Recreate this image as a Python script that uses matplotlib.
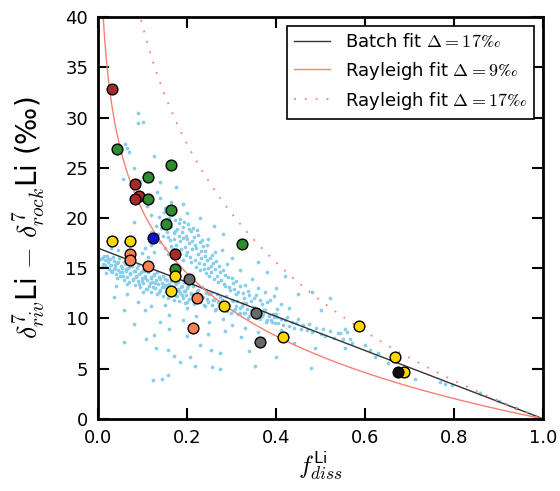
import numpy as np
import matplotlib
matplotlib.use("Agg")
import matplotlib.pyplot as plt

plt.rcParams['mathtext.fontset'] = 'cm'
plt.rcParams['font.family'] = ['DejaVu Sans']

# fit parameters (per mil)
batch_delta = 17.0
rayleigh_delta_a = 9.0
rayleigh_delta_b = 17.0

# model / river cloud: dense band
band_x = [0.010, 0.012, 0.015, 0.018, 0.020, 0.022, 0.025, 0.028, 0.030, 0.032,
          0.035, 0.038, 0.040, 0.042, 0.045, 0.048, 0.050, 0.052, 0.055, 0.058,
          0.060, 0.062, 0.065, 0.068, 0.070, 0.072, 0.075, 0.078, 0.080, 0.082,
          0.085, 0.088, 0.090, 0.092, 0.095, 0.098, 0.100, 0.102, 0.105, 0.108,
          0.110, 0.112, 0.115, 0.118, 0.120, 0.122, 0.125, 0.128, 0.130, 0.133,
          0.135, 0.138, 0.140, 0.143, 0.145, 0.148, 0.150, 0.153, 0.155, 0.158,
          0.160, 0.163, 0.165, 0.168, 0.170, 0.173, 0.175, 0.178, 0.180, 0.183,
          0.185, 0.188, 0.190, 0.193, 0.195, 0.198, 0.200, 0.205, 0.210, 0.215,
          0.220, 0.225, 0.230, 0.235, 0.240, 0.245, 0.250, 0.255, 0.260, 0.265,
          0.270, 0.275, 0.280, 0.285, 0.290, 0.295, 0.300, 0.305, 0.310, 0.315,
          0.320, 0.325, 0.330, 0.335, 0.340, 0.345, 0.350, 0.355, 0.360, 0.365,
          0.370, 0.375, 0.380, 0.385, 0.390, 0.395, 0.400, 0.405, 0.410, 0.415,
          0.420, 0.425, 0.430, 0.435, 0.440, 0.445, 0.450, 0.455, 0.460, 0.470,
          0.475, 0.480, 0.490, 0.500, 0.505, 0.510, 0.520, 0.530, 0.540, 0.550,
          0.560, 0.570]
band_y = [16.0, 15.4, 15.8, 15.1, 16.2, 15.6, 14.9, 15.9, 15.3, 14.6,
          15.7, 15.0, 14.4, 15.5, 14.8, 16.0, 14.2, 15.2, 14.6, 13.8,
          15.4, 14.9, 14.1, 15.0, 13.6, 14.5, 15.3, 13.9, 14.7, 13.3,
          14.2, 15.0, 13.7, 14.4, 13.1, 14.0, 14.8, 13.5, 14.2, 12.9,
          13.8, 14.6, 13.2, 14.0, 12.6, 13.6, 14.4, 13.0, 13.8, 12.4,
          13.4, 14.1, 12.8, 13.5, 12.2, 13.1, 13.9, 12.6, 13.3, 12.0,
          12.9, 13.7, 12.4, 13.1, 11.8, 12.7, 13.4, 12.2, 12.9, 11.7,
          12.5, 13.2, 12.0, 12.7, 11.5, 12.3, 13.0, 11.9, 12.5, 11.4,
          12.2, 12.8, 11.6, 12.1, 11.2, 11.9, 12.4, 11.3, 11.8, 10.9,
          11.6, 12.1, 11.0, 11.5, 10.7, 11.3, 11.8, 10.8, 11.2, 10.4,
          11.0, 11.5, 10.5, 10.9, 10.2, 10.7, 11.1, 10.1, 10.6, 9.9,
          10.4, 10.8, 9.8, 10.2, 9.6, 10.1, 10.4, 9.5, 9.9, 9.3,
          9.8, 10.1, 9.2, 9.6, 9.0, 9.5, 9.9, 8.9, 9.3, 8.8,
          9.4, 8.6, 9.0, 8.4, 8.9, 8.2, 8.7, 8.0, 8.5, 7.9,
          8.6, 7.6]

band2_x = [0.006, 0.009, 0.013, 0.016, 0.019, 0.023, 0.026, 0.029, 0.033, 0.036,
           0.039, 0.043, 0.046, 0.049, 0.053, 0.056, 0.059, 0.063, 0.066, 0.069,
           0.073, 0.076, 0.079, 0.083, 0.086, 0.089, 0.093, 0.096, 0.099, 0.103,
           0.106, 0.109, 0.113, 0.116, 0.119, 0.123, 0.126, 0.129, 0.133, 0.136,
           0.139, 0.143, 0.146, 0.149, 0.153, 0.156, 0.159, 0.163, 0.166, 0.169,
           0.173, 0.176, 0.179, 0.183, 0.186, 0.189, 0.193, 0.196, 0.199, 0.203,
           0.208, 0.213, 0.218, 0.223, 0.228, 0.233, 0.238, 0.243, 0.248, 0.253,
           0.258, 0.263, 0.268, 0.273, 0.278, 0.283, 0.288, 0.293, 0.298, 0.303,
           0.308, 0.313, 0.318, 0.323, 0.328, 0.333, 0.338, 0.343, 0.348, 0.353,
           0.358, 0.363, 0.368, 0.373, 0.378, 0.383, 0.388, 0.393, 0.398, 0.403]
band2_y = [15.9, 15.1, 16.2, 15.3, 14.5, 15.9, 15.3, 14.7, 16.1, 14.9,
           15.3, 14.0, 15.6, 14.6, 15.0, 14.2, 15.6, 14.7, 13.4, 15.1,
           14.4, 15.2, 13.8, 14.7, 14.1, 15.3, 13.4, 14.6, 13.7, 14.7,
           14.0, 12.9, 14.8, 13.5, 14.1, 13.1, 14.3, 13.5, 14.6, 12.6,
           13.9, 13.1, 14.2, 13.3, 12.6, 13.8, 13.4, 12.7, 14.2, 13.0,
           13.5, 12.2, 13.6, 12.7, 13.1, 12.3, 13.6, 12.7, 11.6, 13.2,
           12.4, 13.2, 11.7, 12.7, 12.0, 13.1, 11.3, 12.5, 11.6, 12.5,
           11.8, 10.8, 12.4, 11.3, 11.8, 10.9, 12.2, 11.3, 10.5, 11.7,
           10.9, 11.7, 10.5, 11.2, 10.5, 11.5, 10.0, 10.8, 10.4, 11.0,
           10.0, 10.6, 10.2, 10.8, 9.6, 10.3, 9.8, 10.4, 9.5, 10.1]

# upper lobe of the cloud
lobe_x = [0.130, 0.135, 0.138, 0.140, 0.142, 0.145, 0.148, 0.150, 0.152, 0.155,
          0.158, 0.160, 0.162, 0.165, 0.168, 0.170, 0.172, 0.175, 0.178, 0.180,
          0.182, 0.185, 0.188, 0.190, 0.192, 0.195, 0.198, 0.200, 0.202, 0.205,
          0.208, 0.210, 0.212, 0.215, 0.218, 0.220, 0.222, 0.225, 0.228, 0.230,
          0.232, 0.235, 0.238, 0.240, 0.243, 0.245, 0.248, 0.250, 0.253, 0.256,
          0.260, 0.263, 0.266, 0.270, 0.274, 0.278, 0.282, 0.286, 0.290, 0.295,
          0.300, 0.305, 0.310, 0.315, 0.320, 0.325, 0.330, 0.340, 0.345, 0.350,
          0.360, 0.365, 0.375, 0.380, 0.395, 0.410, 0.430, 0.120, 0.125, 0.112,
          0.118, 0.105, 0.098,
          0.153, 0.157, 0.161, 0.164, 0.167, 0.171, 0.174, 0.177, 0.181, 0.184,
          0.187, 0.191, 0.194, 0.197, 0.201, 0.204, 0.207, 0.211, 0.214, 0.217,
          0.221, 0.224, 0.227, 0.231, 0.234, 0.237, 0.241, 0.244, 0.247, 0.251,
          0.254, 0.258, 0.262, 0.267, 0.271, 0.276, 0.281, 0.286, 0.292, 0.297,
          0.303, 0.311, 0.318, 0.327, 0.336, 0.344, 0.355, 0.368, 0.386, 0.402]
lobe_y = [19.2, 18.4, 20.1, 17.6, 19.0, 18.2, 20.6, 17.0, 19.5, 18.6,
          16.4, 20.0, 17.8, 19.2, 16.9, 18.5, 19.8, 17.3, 18.9, 16.2,
          19.5, 17.7, 18.6, 15.8, 19.1, 17.1, 18.2, 16.6, 19.4, 17.5,
          18.7, 15.6, 16.9, 18.1, 17.3, 15.1, 18.8, 16.4, 17.6, 14.8,
          16.0, 17.2, 15.4, 16.7, 14.5, 15.8, 17.9, 14.2, 15.2, 16.3,
          13.9, 14.9, 15.7, 13.6, 14.6, 16.8, 13.4, 14.3, 15.4, 13.1,
          14.0, 12.9, 13.7, 12.6, 14.8, 12.5, 13.3, 12.3, 13.9, 12.0,
          13.0, 11.8, 12.6, 11.6, 12.2, 11.4, 11.0, 17.3, 16.6, 16.1,
          18.6, 17.0, 16.5,
          19.9, 18.1, 19.1, 17.2, 20.3, 17.9, 18.7, 16.6, 18.2, 19.9,
          16.9, 18.0, 19.6, 16.3, 17.9, 18.9, 16.1, 17.7, 19.0, 15.8,
          17.0, 18.3, 15.5, 16.7, 17.8, 14.9, 16.2, 17.3, 15.0, 16.0,
          14.6, 15.5, 16.6, 14.2, 15.2, 13.8, 14.8, 13.2, 14.1, 12.8,
          13.5, 12.4, 13.2, 12.0, 12.7, 11.7, 12.3, 11.4, 11.8, 10.9]

# sparse points around the cloud
sparse_x = [0.090, 0.090, 0.100, 0.060, 0.065, 0.070, 0.126, 0.081, 0.056, 0.094,
            0.140, 0.133, 0.175, 0.140, 0.165, 0.110, 0.150, 0.190, 0.120, 0.080,
            0.200, 0.230, 0.260, 0.280, 0.320, 0.300, 0.360, 0.380, 0.420, 0.400,
            0.450, 0.480, 0.520, 0.500, 0.060, 0.045, 0.030,
            0.065, 0.058, 0.106, 0.140, 0.058, 0.108, 0.126, 0.130, 0.157, 0.170,
            0.184, 0.207, 0.218, 0.124, 0.144, 0.157, 0.254, 0.256, 0.274, 0.274,
            0.353, 0.479, 0.247, 0.285, 0.321, 0.090, 0.120, 0.160, 0.190, 0.220,
            0.250, 0.280, 0.200, 0.150, 0.100, 0.040, 0.035, 0.300, 0.330, 0.360,
            0.410, 0.440, 0.160, 0.200, 0.080, 0.230, 0.340, 0.400,
            0.544, 0.555, 0.566, 0.555, 0.600, 0.611, 0.622, 0.630, 0.652, 0.683,
            0.695, 0.712, 0.769, 0.780, 0.796, 0.858, 0.488, 0.900, 0.940]
sparse_y = [30.5, 29.5, 29.6, 27.4, 27.0, 26.6, 26.2, 25.0, 23.9, 23.7,
            23.6, 22.6, 23.1, 22.0, 21.6, 21.2, 21.0, 21.4, 20.3, 19.6,
            20.5, 20.0, 19.2, 18.4, 17.2, 16.0, 15.6, 14.6, 14.2, 13.0,
            12.4, 12.6, 12.0, 10.8, 17.6, 16.8, 17.0,
            12.4, 10.8, 10.8, 9.6, 7.7, 7.9, 8.3, 7.1, 6.9, 6.3,
            5.7, 6.2, 5.3, 3.9, 4.0, 4.4, 6.9, 5.2, 6.6, 5.0,
            5.3, 5.1, 8.4, 8.7, 8.1, 11.6, 11.2, 10.3, 9.8, 10.2,
            9.6, 9.9, 11.0, 11.3, 12.6, 13.2, 12.1, 9.3, 9.0, 8.6,
            8.8, 7.6, 8.9, 8.2, 9.4, 7.4, 6.8, 6.2,
            8.5, 8.9, 7.9, 7.1, 7.4, 6.9, 6.2, 6.6, 5.6, 4.8,
            4.6, 4.0, 3.7, 3.5, 3.4, 2.6, 7.1, 1.8, 1.1]

# measured rivers, grouped by colour
groups = [
    ("#a52a2a", [0.032, 0.082, 0.092, 0.082, 0.173],
                [32.8, 23.35, 22.2, 21.9, 16.4]),
    ("#2e8b2e", [0.042, 0.163, 0.112, 0.112, 0.163, 0.153, 0.324, 0.173],
                [26.9, 25.3, 24.1, 21.9, 20.8, 19.4, 17.4, 14.96]),
    ("#1010d0", [0.123], [17.98]),
    ("#ff8050", [0.073, 0.073, 0.113, 0.223, 0.2135],
                [16.4, 15.8, 15.2, 12.0, 9.09]),
    ("#ffd700", [0.032, 0.073, 0.173, 0.163, 0.284, 0.415, 0.586, 0.667, 0.688],
                [17.74, 17.74, 14.2, 12.74, 11.27, 8.19, 9.28, 6.2, 4.71]),
    ("#696969", [0.204, 0.355, 0.365], [13.9, 10.5, 7.66]),
    ("#111111", [0.674], [4.71]),
]

fig, ax = plt.subplots(figsize=(5.6, 4.91), dpi=100)
fig.subplots_adjust(left=0.175, right=0.970, bottom=0.147, top=0.965)

cloud_x = band_x + band2_x + lobe_x + sparse_x
cloud_y = band_y + band2_y + lobe_y + sparse_y
ax.scatter(cloud_x, cloud_y, s=7, color="#87ceeb", linewidths=0, zorder=1)

f = np.linspace(0.001, 1.0, 500)
ax.plot(f, batch_delta * (1 - f), color="#333333", lw=1.0, zorder=2,
        label=r"Batch fit $\Delta = 17\perthousand$")
ax.plot(f, -rayleigh_delta_a * np.log(f), color="#fa8072", lw=1.0, zorder=2,
        label=r"Rayleigh fit $\Delta = 9\perthousand$")
ax.plot(f, -rayleigh_delta_b * np.log(f), color="#fa8072", lw=1.3, ls=(0, (1, 5)),
        zorder=2, label=r"Rayleigh fit $\Delta = 17\perthousand$")

for col, xs, ys in groups:
    ax.scatter(xs, ys, s=60, color=col, edgecolors="black", linewidths=1.0, zorder=3)

ax.set_xlim(0, 1)
ax.set_ylim(0, 40)
ax.set_xticks([0, 0.2, 0.4, 0.6, 0.8, 1.0])
ax.set_yticks(range(0, 41, 5))
ax.tick_params(direction="in", length=8, width=1.5, top=True, right=True,
               labelsize=13, pad=7)
for sp in ax.spines.values():
    sp.set_linewidth(2)

ax.set_xlabel(r"$f_{diss}^{\mathsf{Li}}$", fontsize=18, labelpad=2)
ax.set_ylabel(r"$\delta^7_{riv}$Li $-$ $\delta^7_{rock}$Li (‰)", fontsize=20, labelpad=13)

leg = ax.legend(loc="upper right", fontsize=13, fancybox=False, handlelength=2,
                labelspacing=0.45, borderaxespad=0.5, framealpha=1)
leg.get_frame().set_edgecolor("black")
leg.get_frame().set_linewidth(1.2)

fig.savefig("out.png", dpi=100)
